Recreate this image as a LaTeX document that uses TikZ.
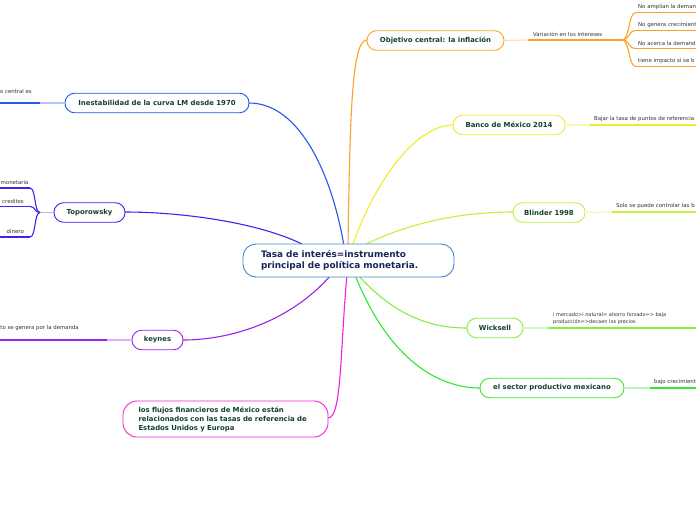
\documentclass[tikz,border=0pt]{standalone}
\usepackage{fontspec}
\setmainfont{DejaVu Sans}
\definecolor{ntext}{HTML}{12402F}
\definecolor{ctext}{HTML}{16285A}
\definecolor{subtext}{HTML}{333333}
\definecolor{cblue}{HTML}{3D8BD0}
\definecolor{corange}{HTML}{F7A52A}
\definecolor{cyellow}{HTML}{F0EC2C}
\definecolor{clime}{HTML}{C2F23E}
\definecolor{cgreenA}{HTML}{86EC40}
\definecolor{cgreenB}{HTML}{30E830}
\definecolor{cbluel}{HTML}{2456F2}
\definecolor{cindigo}{HTML}{4422EE}
\definecolor{cpurple}{HTML}{9A22F0}
\definecolor{cmagenta}{HTML}{F022DA}
\tikzset{
  topic/.style={draw=#1, fill=white, line width=0.9pt, rounded corners=9.5pt,
    minimum height=19.5pt, inner sep=0pt, text=ntext,
    font=\bfseries\fontsize{6.9}{8.5}\selectfont},
  branch/.style={draw=#1, line width=1.1pt},
  thin/.style={draw=#1!35, line width=1.1pt},
  thick/.style={draw=#1, line width=1.8pt},
  subtxt/.style={text=subtext, font=\fontsize{5.4}{7}\selectfont, inner sep=0pt}
}
\begin{document}
\begin{tikzpicture}[x=1pt,y=-1pt]
\useasboundingbox (0,0) rectangle (696,520);
\fill[white] (0,0) rectangle (696,520);

% anchors on the central node
\coordinate (sBlue) at (344,246);
\coordinate (sOrange) at (348,246);
\coordinate (sYellow) at (352,246);
\coordinate (sLime) at (358,248);
\coordinate (sIndigo) at (306,246);
\coordinate (sPurple) at (331,275);
\coordinate (sMagenta) at (347,275);
\coordinate (sGreenA) at (358,275);
\coordinate (sGreenB) at (355,275);

% main branches
\draw[branch=cbluel] (sBlue) .. controls (332,175) and (300,103) .. (249,103);
\draw[branch=corange] (sOrange) .. controls (350,110) and (352,40) .. (367,40);
\draw[branch=cyellow] (sYellow) .. controls (380,170) and (420,125) .. (453,125);
\draw[branch=clime] (sLime) .. controls (420,216) and (480,212) .. (513,212);
\draw[branch=cindigo] (sIndigo) .. controls (260,222) and (180,212) .. (125,212);
\draw[branch=cpurple] (sPurple) .. controls (290,322) and (230,340) .. (183,340);
\draw[branch=cmagenta] (sMagenta) .. controls (340,350) and (342,418) .. (328,418);
\draw[branch=cgreenA] (sGreenA) .. controls (400,322) and (440,328) .. (467,328);
\draw[branch=cgreenB] (sGreenB) .. controls (390,362) and (440,388) .. (480,388);

% central node
\node[draw=cblue, fill=white, line width=0.9pt, rounded corners=13pt,
  minimum width=211pt, minimum height=33pt, inner sep=0pt,
  text width=175pt, align=left, text=ctext,
  font=\bfseries\fontsize{8.9}{10.5}\selectfont] (c) at (348.5,260.5)
  {Tasa de interés=instrumento\\principal de política monetaria.};

% topic nodes
\node[topic=corange, minimum width=137pt] (obj) at (435.5,40.5) {Objetivo central: la inflación};
\node[topic=cyellow, minimum width=112pt] (ban) at (509,125) {Banco de México 2014};
\node[topic=clime, minimum width=72pt] (bli) at (549,212.5) {Blinder 1998};
\node[topic=cgreenA, minimum width=56pt] (wic) at (495,328) {Wicksell};
\node[topic=cgreenB, minimum width=144pt] (sec) at (552,388) {el sector productivo mexicano};
\node[topic=cbluel, minimum width=184pt] (ine) at (157,103) {Inestabilidad de la curva LM desde 1970};
\node[topic=cindigo, minimum width=71pt] (top) at (89.5,212.5) {Toporowsky};
\node[topic=cpurple, minimum width=51pt] (key) at (157.5,340) {keynes};
\node[topic=cmagenta, minimum width=205pt, minimum height=36pt, rounded corners=14pt,
  text width=174pt, align=left, font=\bfseries\fontsize{6.9}{9}\selectfont] (flu) at (225.5,419)
  {los flujos financieros de México están\\relacionados con las tasas de referencia de\\Estados Unidos y Europa};

% ---- Objetivo subtree
\coordinate (o1) at (528,40);
\coordinate (o2) at (622,40);
\draw[thin=corange] (obj.east) -- (o1);
\draw[thick=corange] (o1) -- (o2);
\node[subtxt, anchor=south west] (ovar) at (533,37) {Variación en los intereses};
\foreach \yy/\nm/\tx in {12.5/a/{No amplían la deman}, 30.5/b/{No genera crecimient}, 48.5/c/{No acerca la demand}, 66.5/d/{tiene impacto si se b}}{
  \coordinate (oe\nm) at (636,\yy);
  \coordinate (of\nm) at (696,\yy);
  \draw[branch=corange] (o2) .. controls (630,40) and (628,\yy) .. (oe\nm);
  \draw[thick=corange] (oe\nm) -- (of\nm);
  \node[subtxt, anchor=south west] (ot\nm) at (638,\yy-3) {\tx};
}

% ---- Banco subtree
\coordinate (b1) at (590,125);
\coordinate (b2) at (696,125);
\draw[thin=cyellow] (ban.east) -- (b1);
\draw[thick=cyellow] (b1) -- (b2);
\node[subtxt, anchor=south west] (bt) at (594,122) {Bajar la tasa de puntos de referencia};

% ---- Blinder subtree
\coordinate (l1) at (612,212);
\coordinate (l2) at (696,212);
\draw[thin=clime] (bli.east) -- (l1);
\draw[thick=clime] (l1) -- (l2);
\node[subtxt, anchor=south west] (lt) at (616,209) {Solo se puede controlar las b};

% ---- Wicksell subtree
\coordinate (w1) at (548,328);
\coordinate (w2) at (696,328);
\draw[thin=cgreenA] (wic.east) -- (w1);
\draw[thick=cgreenA] (w1) -- (w2);
\node[subtxt, anchor=south west, align=left, font=\fontsize{5}{7}\selectfont] (wt) at (553,325) {i mercado>i natural= ahorro forzado=> baja\\producción=>decaen los precios};

% ---- sector subtree
\coordinate (s1) at (650,388);
\coordinate (s2) at (696,388);
\draw[thin=cgreenB] (sec.east) -- (s1);
\draw[thick=cgreenB] (s1) -- (s2);
\node[subtxt, anchor=south west] (st) at (654,385) {bajo crecimient};

% ---- Inestabilidad subtree
\coordinate (i1) at (40,103);
\coordinate (i2) at (0,103);
\draw[thin=cbluel] (ine.west) -- (i1);
\draw[thick=cbluel] (i1) -- (i2);
\node[subtxt, anchor=south east] (it) at (32,94) {o central es};

% ---- Toporowsky subtree
\coordinate (t0) at (40,212.5);
\draw[thin=cindigo] (top.west) -- (t0);
\foreach \yy/\nm/\tx in {188/a/monetaria, 206.5/b/creditos, 237/c/dinero}{
  \coordinate (te\nm) at (30,\yy);
  \coordinate (tf\nm) at (0,\yy);
  \draw[branch=cindigo] (t0) .. controls (34,212.5) and (36,\yy) .. (te\nm);
  \draw[thick=cindigo] (te\nm) -- (tf\nm);
}
\node[subtxt, anchor=south west] (tta) at (0.5,185) {monetaria};
\node[subtxt, anchor=south east] (ttb) at (24,203.5) {creditos};
\node[subtxt, anchor=south east] (ttc) at (24,234) {dinero};

% ---- keynes subtree
\coordinate (k1) at (107,340);
\coordinate (k2) at (0,340);
\draw[thin=cpurple] (key.west) -- (k1);
\draw[thick=cpurple] (k1) -- (k2);
\node[subtxt, anchor=south east] (kt) at (79,331) {to se genera por la demanda};

\end{tikzpicture}
\end{document}
